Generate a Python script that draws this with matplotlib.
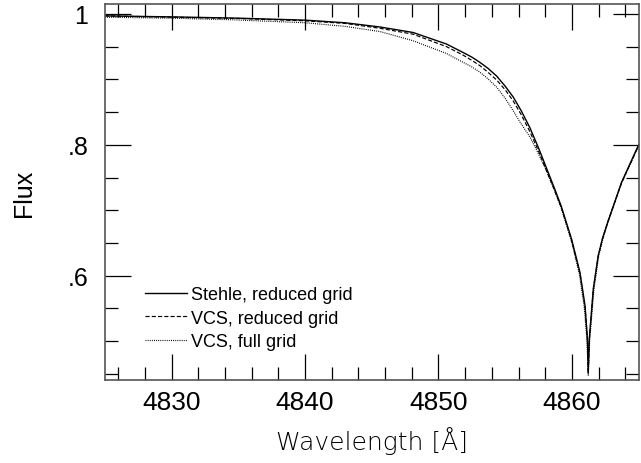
import matplotlib
matplotlib.use("Agg")
import matplotlib.pyplot as plt
from matplotlib.ticker import MultipleLocator, FixedLocator, FuncFormatter

# wavelength [A] and flux

# Stehle, reduced grid (solid)
wl_stehle = [4825.0, 4830.0, 4835.0, 4840.0, 4843.0, 4845.63, 4848.1, 4850.6,
             4851.85, 4852.5, 4853.1, 4853.7, 4854.36, 4855.0, 4855.6, 4856.2,
             4856.85, 4857.5, 4858.1, 4858.7, 4859.2, 4859.97, 4860.6, 4860.98,
             4861.16, 4861.22, 4861.3, 4861.6, 4861.97, 4862.3, 4862.7, 4863.72,
             4864.84, 4865.0]
fx_stehle = [0.997, 0.9955, 0.9935, 0.9905, 0.9865, 0.980, 0.9716, 0.954,
             0.941, 0.934, 0.926, 0.917, 0.905, 0.8895, 0.873, 0.852,
             0.826, 0.795, 0.764, 0.733, 0.706, 0.656, 0.605, 0.554,
             0.503, 0.4525, 0.503, 0.580, 0.631, 0.658, 0.683, 0.743,
             0.793, 0.800]

# VCS, reduced grid (dashed)
wl_vcs_red = [4825.0, 4830.0, 4835.0, 4840.0, 4843.0, 4845.63, 4848.1, 4850.6,
              4851.85, 4852.5, 4853.1, 4853.7, 4854.36, 4855.0, 4855.6, 4856.2,
              4856.85, 4857.5, 4858.1, 4858.7, 4859.2, 4859.97, 4860.6, 4860.98,
              4861.16, 4861.22, 4861.3, 4861.6, 4861.97, 4862.3, 4862.7, 4863.72,
              4864.84, 4865.0]
fx_vcs_red = [0.997, 0.995, 0.993, 0.9895, 0.9855, 0.978, 0.969, 0.950,
              0.937, 0.929, 0.921, 0.911, 0.899, 0.884, 0.867, 0.846,
              0.820, 0.790, 0.760, 0.730, 0.704, 0.654, 0.603, 0.552,
              0.502, 0.452, 0.503, 0.579, 0.630, 0.657, 0.683, 0.742,
              0.792, 0.799]

# VCS, full grid (dotted)
wl_vcs_full = [4825.0, 4830.0, 4834.6, 4840.0, 4843.0, 4845.63, 4848.1, 4850.6,
               4851.85, 4852.5, 4853.1, 4853.7, 4854.36, 4855.0, 4855.6, 4856.1,
               4856.85, 4857.35, 4858.1, 4858.7, 4859.2, 4859.97, 4860.55, 4860.92,
               4861.12, 4861.22, 4861.33, 4861.65, 4862.0, 4862.33, 4862.72, 4863.73,
               4864.85, 4865.0]
fx_vcs_full = [0.995, 0.9935, 0.991, 0.9865, 0.981, 0.973, 0.959, 0.9395,
               0.926, 0.919, 0.911, 0.901, 0.888, 0.871, 0.852, 0.835,
               0.812, 0.792, 0.760, 0.730, 0.703, 0.652, 0.603, 0.552,
               0.502, 0.448, 0.502, 0.579, 0.630, 0.657, 0.683, 0.742,
               0.792, 0.799]

labels = ["Stehle, reduced grid", "VCS, reduced grid", "VCS, full grid"]
yticks = [0.6, 0.8, 1.0]
ytick_labels = [".6", ".8", "1"]

plt.rcParams["font.family"] = ["Liberation Sans", "DejaVu Sans"]

fig = plt.figure(figsize=(6.41, 4.64), dpi=100)
ax = fig.add_axes([0.1635, 0.178, 0.8329, 0.811])

ax.plot(wl_stehle, fx_stehle, color="black", lw=1.0, ls="-", label=labels[0])
ax.plot(wl_vcs_red, fx_vcs_red, color="black", lw=0.85, dashes=(3.5, 1.8), label=labels[1])
ax.plot(wl_vcs_full, fx_vcs_full, color="black", lw=0.85, dashes=(0.8, 1.0), label=labels[2])

ax.set_xlim(4825, 4865)
ax.set_ylim(0.44, 1.015)

ax.xaxis.set_major_locator(MultipleLocator(10))
ax.xaxis.set_minor_locator(MultipleLocator(2))
ax.yaxis.set_major_locator(FixedLocator(yticks))
ax.yaxis.set_major_formatter(FuncFormatter(lambda v, p: ytick_labels[yticks.index(round(v, 2))] if round(v, 2) in yticks else ""))
ax.yaxis.set_minor_locator(MultipleLocator(0.05))

ax.tick_params(which="both", direction="in", top=True, right=True, color="black", width=0.9)
ax.tick_params(which="major", length=19)
ax.tick_params(which="minor", length=9.5)
ax.tick_params(axis="x", which="major", labelsize=19, pad=7)
ax.tick_params(axis="y", which="major", labelsize=18, pad=12)

for s in ax.spines.values():
    s.set_color("#555555")
    s.set_linewidth(1.2)

fig.text(24 / 641, 1 - 193 / 464, "Flux", rotation=90, ha="center", va="center", fontsize=18)
fig.text(371.5 / 641, 1 - 441 / 464, "Wavelength [Å]", ha="center", va="center",
         fontsize=18, family="DejaVu Sans", fontweight="light", color="black")

ax.legend(loc="center left", bbox_to_anchor=(0.0753, 0.165), frameon=False,
          fontsize=13, handlelength=2.33, handletextpad=0.2, labelspacing=0.36,
          borderpad=0, borderaxespad=0)

fig.savefig("out.png", dpi=100)
